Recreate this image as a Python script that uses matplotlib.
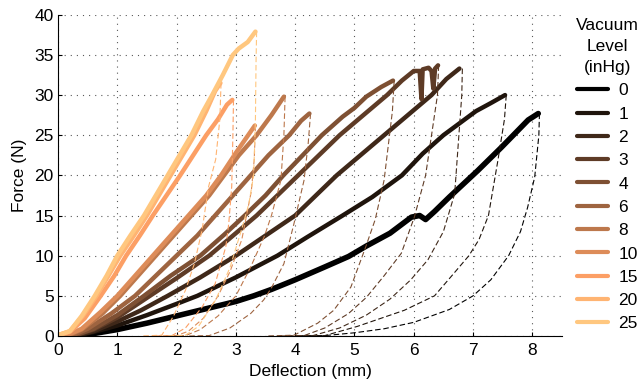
import matplotlib.pyplot as plt
import numpy as np

plt.rcParams['font.family'] = ['Liberation Sans', 'DejaVu Sans']

# niveles de vacío (inHg)
levels = [0, 1, 2, 3, 4, 6, 8, 10, 15, 20, 25]

# curvas de carga (línea gruesa)
load_x = [
    [0.28, 0.6, 1.0, 1.5, 2.0, 2.5, 3.0, 3.3, 3.6, 4.0, 4.5, 4.9, 5.2, 5.6, 5.96, 6.1, 6.2, 6.35, 6.6, 7.08, 7.48, 7.93, 8.1],
    [0.28, 0.6, 1.0, 1.5, 2.0, 2.35, 3.0, 3.7, 4.2, 4.8, 5.3, 5.8, 6.15, 6.5, 7.05, 7.3, 7.54],
    [0.28, 0.6, 1.0, 1.4, 1.85, 2.4, 3.0, 3.5, 4.0, 4.35, 4.7, 5.1, 5.5, 5.9, 6.3, 6.55, 6.77],
    [0.25, 0.6, 1.0, 1.55, 2.0, 2.55, 3.0, 3.35, 3.7, 4.05, 4.4, 4.75, 5.15, 5.55, 5.8, 6.0, 6.1, 6.13, 6.15, 6.25, 6.3, 6.33, 6.36, 6.41],
    [0.25, 0.6, 1.0, 1.45, 1.9, 2.4, 2.8, 3.15, 3.5, 3.8, 4.1, 4.45, 4.8, 5.0, 5.2, 5.45, 5.65],
    [0.22, 0.5, 0.9, 1.3, 1.65, 2.0, 2.35, 2.65, 2.95, 3.25, 3.55, 3.9, 4.1, 4.24],
    [0.15, 0.4, 0.75, 1.05, 1.35, 1.65, 1.95, 2.25, 2.55, 2.8, 3.05, 3.35, 3.6, 3.81],
    [0.12, 0.4, 0.72, 1.0, 1.3, 1.6, 1.9, 2.2, 2.5, 2.75, 3.0, 3.32],
    [0.0, 0.2, 0.45, 0.72, 0.95, 1.15, 1.38, 1.6, 1.83, 2.06, 2.28, 2.5, 2.7, 2.85, 2.94],
    [0.0, 0.2, 0.42, 0.65, 0.85, 1.05, 1.28, 1.5, 1.7, 1.9, 2.1, 2.3, 2.5, 2.65, 2.74],
    [0.0, 0.2, 0.4, 0.62, 0.82, 1.0, 1.22, 1.45, 1.65, 1.85, 2.05, 2.25, 2.45, 2.6, 2.78, 2.95, 3.05, 3.2, 3.33],
]
load_y = [
    [0, 0.3, 0.8, 1.6, 2.5, 3.4, 4.3, 5.0, 5.8, 7.0, 8.6, 9.9, 11.2, 12.8, 14.8, 15.0, 14.5, 15.5, 17.3, 20.6, 23.5, 26.9, 27.7],
    [0, 0.5, 1.3, 2.6, 4.0, 5.0, 7.3, 10.0, 12.3, 15.0, 17.3, 20.0, 22.7, 25.0, 28.0, 29.0, 30.0],
    [0, 0.6, 1.8, 3.2, 5.0, 7.3, 10.0, 12.5, 15.0, 17.5, 20.0, 22.5, 25.0, 27.5, 30.0, 32.0, 33.3],
    [0, 0.8, 2.3, 5.0, 7.2, 10.0, 12.8, 15.0, 17.5, 20.0, 22.5, 25.0, 27.5, 30.0, 31.8, 33.0, 33.0, 29.5, 33.2, 33.4, 33.0, 30.8, 33.3, 33.7],
    [0, 0.9, 2.6, 5.0, 7.5, 10.0, 12.6, 15.0, 17.5, 20.0, 22.3, 25.0, 27.3, 28.4, 29.8, 31.0, 31.8],
    [0, 0.9, 2.8, 5.0, 7.5, 10.0, 12.5, 15.0, 17.5, 20.0, 22.5, 25.0, 26.8, 27.7],
    [0, 0.8, 2.8, 5.0, 7.5, 10.0, 12.5, 15.0, 17.5, 20.0, 22.5, 25.0, 27.5, 29.8],
    [0, 0.9, 3.0, 5.0, 7.5, 10.0, 12.5, 15.0, 17.5, 20.0, 22.8, 26.2],
    [0.1, 0.5, 2.2, 5.0, 7.5, 10.0, 12.5, 15.0, 17.5, 20.0, 22.5, 25.0, 27.0, 28.8, 29.4],
    [0.1, 0.6, 2.5, 5.0, 7.5, 10.0, 12.5, 15.0, 17.5, 20.0, 22.5, 25.0, 28.0, 30.5, 31.5],
    [0.1, 0.6, 2.5, 5.0, 7.5, 10.0, 12.5, 15.0, 17.5, 20.0, 22.5, 25.0, 28.0, 30.0, 32.5, 35.0, 35.8, 36.6, 37.9],
]

# curvas de descarga (línea discontinua)
unload_x = [
    [8.12, 8.11, 8.04, 7.92, 7.8, 7.6, 7.3, 7.0, 6.6, 6.0, 5.5, 5.0, 4.5, 4.0],
    [7.56, 7.53, 7.42, 7.26, 7.1, 6.93, 6.63, 6.35, 5.84, 5.05, 4.5, 4.0],
    [6.82, 6.81, 6.69, 6.5, 6.24, 5.95, 5.6, 5.2, 4.75, 4.3, 3.9],
    [6.42, 6.4, 6.2, 6.01, 5.79, 5.5, 5.2, 4.9, 4.5, 4.15, 3.7],
    [5.67, 5.64, 5.5, 5.35, 5.19, 4.94, 4.65, 4.38, 3.98, 3.5],
    [4.26, 4.22, 4.15, 3.98, 3.81, 3.6, 3.47, 3.25, 2.9, 2.55, 2.2],
    [3.83, 3.81, 3.76, 3.6, 3.48, 3.25, 3.0, 2.7, 2.4, 2.15, 1.8],
    [3.33, 3.31, 3.26, 3.1, 2.9, 2.7, 2.45, 2.2, 2.0, 1.7],
    [2.96, 2.95, 2.93, 2.88, 2.83, 2.65, 2.43, 2.15, 1.92, 1.6],
    [2.75, 2.73, 2.66, 2.54, 2.43, 2.3, 2.15, 1.95, 1.75, 1.4],
    [3.35, 3.34, 3.33, 3.3, 3.22, 3.11, 2.9, 2.66, 2.37, 2.15, 1.8],
]
unload_y = [
    [27.7, 25.0, 19.8, 16.0, 13.0, 10.0, 7.0, 5.0, 3.3, 1.7, 0.9, 0.4, 0.05, 0.0],
    [30.0, 27.0, 21.9, 15.0, 12.0, 10.0, 7.4, 5.0, 3.2, 1.2, 0.05, 0.0],
    [33.3, 30.0, 17.7, 13.0, 9.5, 7.0, 4.6, 2.6, 1.0, 0.05, 0.0],
    [33.7, 30.0, 20.0, 14.8, 10.3, 7.5, 4.8, 2.8, 1.0, 0.05, 0.0],
    [31.8, 28.0, 19.4, 14.5, 11.1, 6.1, 3.2, 1.6, 0.1, 0.0],
    [27.7, 24.0, 19.4, 14.0, 9.0, 6.0, 4.5, 2.8, 1.0, 0.05, 0.0],
    [29.8, 25.0, 19.4, 15.0, 12.4, 8.6, 5.0, 2.5, 0.8, 0.05, 0.0],
    [26.2, 22.0, 18.0, 12.0, 8.0, 5.0, 2.2, 0.6, 0.05, 0.0],
    [29.4, 25.0, 18.6, 14.0, 11.1, 6.5, 3.6, 1.0, 0.05, 0.0],
    [31.5, 27.0, 22.0, 18.6, 13.2, 9.0, 5.7, 2.5, 0.1, 0.0],
    [37.9, 34.0, 27.0, 20.0, 16.5, 13.6, 8.5, 4.5, 1.2, 0.1, 0.0],
]

colors = plt.cm.copper(np.linspace(0, 1, len(levels)))

fig = plt.figure(figsize=(6.4, 3.88), dpi=100)
ax = fig.add_axes([0.0906, 0.134, 0.7875, 0.828])

for i, lev in enumerate(levels):
    lw = 4 if lev == 0 else 3.2
    ax.plot(load_x[i], load_y[i], color=colors[i], lw=lw, label=str(lev),
            solid_joinstyle='round', solid_capstyle='round')
for i, lev in enumerate(levels):
    ax.plot(unload_x[i], unload_y[i], color=colors[i], lw=0.8, dashes=(5, 2.5))

ax.set_xlim(0, 8.5)
ax.set_ylim(0, 40)
ax.set_xticks(range(0, 9))
ax.set_yticks(range(0, 41, 5))
ax.grid(True, color='0.35', lw=0.8, ls=(0, (1, 4.5)))
ax.set_axisbelow(True)
for s in ['top', 'right']:
    ax.spines[s].set_visible(False)
ax.tick_params(direction='in', length=3, labelsize=12.5, top=False, right=False)
ax.tick_params(axis='x', pad=5)
ax.tick_params(axis='y', pad=3)
ax.set_xlabel('Deflection (mm)', fontsize=12.5, labelpad=4)
ax.set_ylabel('Force (N)', fontsize=12.5, labelpad=5)

leg = ax.legend(title='Vacuum\nLevel\n(inHg)', loc='upper left',
                bbox_to_anchor=(0.892, 0.967), bbox_transform=fig.transFigure,
                frameon=False, fontsize=12.5, title_fontsize=12.5,
                handlelength=1.8, handletextpad=0.6, labelspacing=0.47,
                borderaxespad=0, borderpad=0.3)
leg.get_title().set_multialignment('center')
leg.get_title().set_linespacing(1.5)
for h in leg.get_lines():
    h.set_linewidth(3)

plt.savefig('out.png', dpi=100)
